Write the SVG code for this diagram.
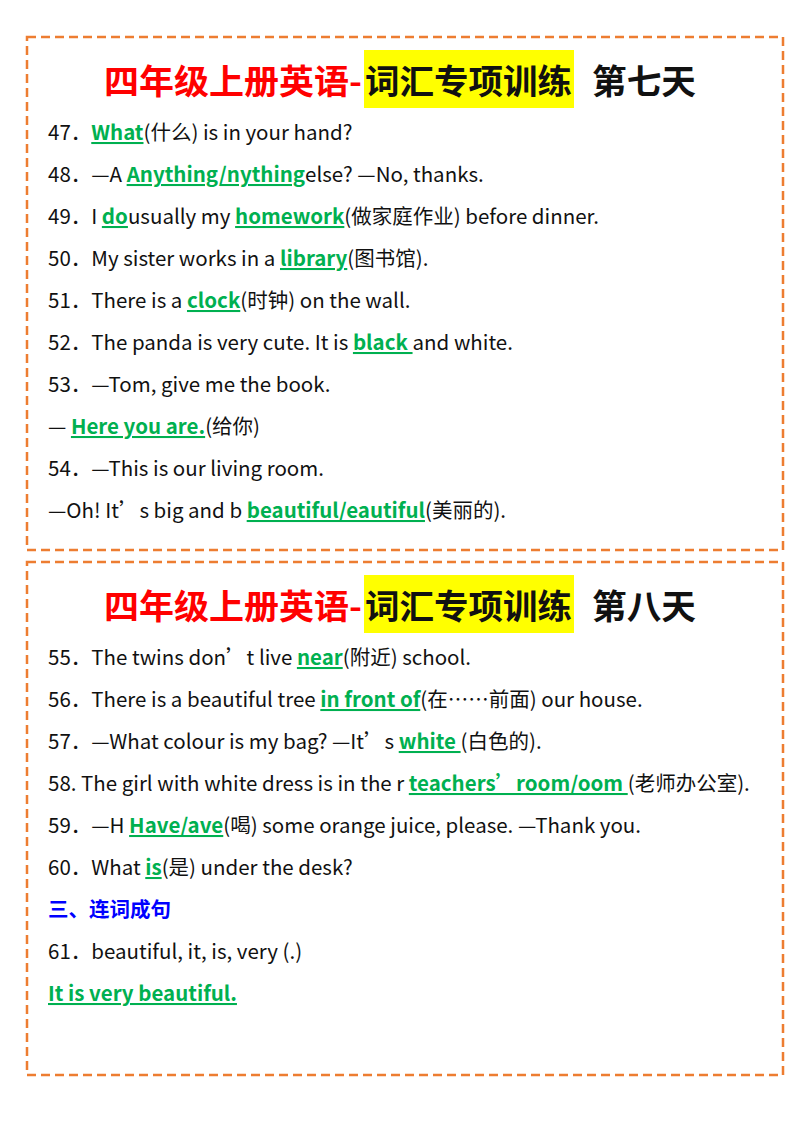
<svg xmlns="http://www.w3.org/2000/svg" width="800" height="1132" viewBox="0 0 800 1132">
<style>
text{font-family:"Noto Sans CJK SC","Noto Sans",sans-serif;font-size:20.5px;fill:#111}
.a{fill:#00b050;font-weight:bold;text-decoration:underline}
.t{font-size:34px;font-weight:bold}
.r{fill:#ff0000}
.box{fill:none;stroke:#ed7d31;stroke-width:2.5;stroke-dasharray:9 5}
</style>
<rect width="800" height="1132" fill="#fff"/>
<rect class="box" x="27" y="37" width="756" height="513"/>
<rect class="box" x="27" y="562" width="756" height="513"/>
<g id="title1">
<rect x="364" y="50" width="210" height="58" fill="#ffff00"/>
<text class="t r" x="104" y="94" textLength="258" lengthAdjust="spacingAndGlyphs">四年级上册英语-</text>
<text class="t" x="365" y="94" textLength="207" lengthAdjust="spacingAndGlyphs">词汇专项训练</text>
<text class="t" x="592" y="94" textLength="104" lengthAdjust="spacingAndGlyphs">第七天</text>
</g>
<text x="48" y="140">47．<tspan class="a">What</tspan>(什么) is in your hand?</text>
<text x="48" y="182">48．—A <tspan class="a">Anything/nything</tspan>else?  —No, thanks.</text>
<text x="48" y="224">49．I <tspan class="a">do</tspan>usually my <tspan class="a">homework</tspan>(做家庭作业) before dinner.</text>
<text x="48" y="266">50．My sister works in a <tspan class="a">library</tspan>(图书馆).</text>
<text x="48" y="308">51．There is a <tspan class="a">clock</tspan>(时钟) on the wall.</text>
<text x="48" y="350">52．The panda is very cute. It is <tspan class="a">black </tspan>and white.</text>
<text x="48" y="392">53．—Tom, give me the book.</text>
<text x="48" y="434">—  <tspan class="a">Here you are.</tspan>(给你)</text>
<text x="48" y="476">54．—This is our living room.</text>
<text x="48" y="518">—Oh! It’s big and b <tspan class="a">beautiful/eautiful</tspan>(美丽的).</text>
<g id="title2">
<rect x="364" y="575" width="210" height="58" fill="#ffff00"/>
<text class="t r" x="104" y="619" textLength="258" lengthAdjust="spacingAndGlyphs">四年级上册英语-</text>
<text class="t" x="365" y="619" textLength="207" lengthAdjust="spacingAndGlyphs">词汇专项训练</text>
<text class="t" x="592" y="619" textLength="104" lengthAdjust="spacingAndGlyphs">第八天</text>
</g>
<text x="48" y="665">55．The twins don’t live <tspan class="a">near</tspan>(附近) school.</text>
<text x="48" y="707">56．There is a beautiful tree <tspan class="a">in front of</tspan>(在……前面) our house.</text>
<text x="48" y="749">57．—What colour is my bag?  —It’s <tspan class="a">white </tspan>(白色的).</text>
<text x="48" y="791">58. The girl with white dress is in the r <tspan class="a">teachers’room/oom </tspan>(老师办公室).</text>
<text x="48" y="833">59．—H <tspan class="a">Have/ave</tspan>(喝) some orange juice, please.  —Thank you.</text>
<text x="48" y="875">60．What <tspan class="a">is</tspan>(是) under the desk?</text>
<text x="48" y="917" style="fill:#0000ff;font-weight:bold">三、连词成句</text>
<text x="48" y="959">61．beautiful, it, is, very (.)</text>
<text x="48" y="1001" class="a">It is very beautiful. </text>
</svg>
